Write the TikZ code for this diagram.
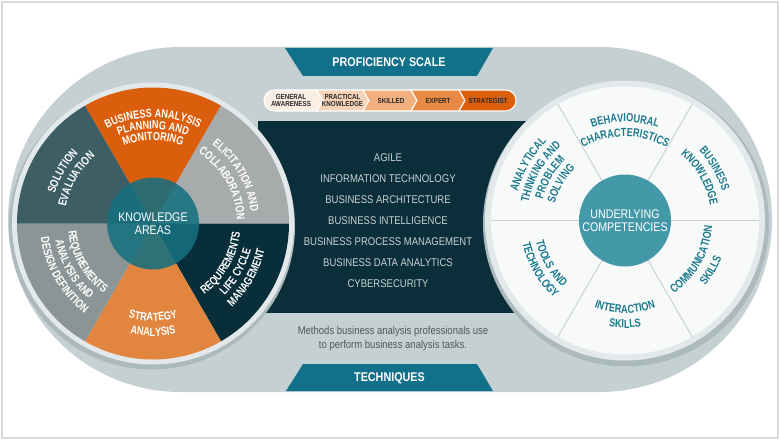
\documentclass[tikz,border=0pt]{standalone}
\usepackage{fontspec}
\setmainfont{Liberation Sans}[FakeStretch=0.85]
\newfontfamily\wheelfam{Liberation Sans}[FakeStretch=0.78]
\usetikzlibrary{positioning,decorations.text}

\definecolor{frame}{HTML}{D9D9D9}
\definecolor{band}{HTML}{C5D0D3}
\definecolor{bandshade}{HTML}{ADBABD}
\definecolor{rim}{HTML}{E3E9EA}
\definecolor{tealhead}{HTML}{11718A}
\definecolor{panel}{HTML}{0B2F3A}
\definecolor{orangedark}{HTML}{DB5E0C}
\definecolor{orangelight}{HTML}{E2853F}
\definecolor{greylight}{HTML}{A8ABAB}
\definecolor{greymid}{HTML}{8B9595}
\definecolor{slate}{HTML}{3E5E66}
\definecolor{navy}{HTML}{082E3A}
\definecolor{hubleft}{HTML}{16707F}
\definecolor{hubright}{HTML}{2B8C9D}
\definecolor{comptext}{HTML}{1B7A8D}
\definecolor{spoke}{HTML}{CDD3D4}
\definecolor{wheelwhite}{HTML}{F8FAFA}
\definecolor{lvla}{HTML}{FBEEE4}
\definecolor{lvlb}{HTML}{F6D3B6}
\definecolor{lvlc}{HTML}{F0B07F}
\definecolor{lvld}{HTML}{E88A45}
\definecolor{lvle}{HTML}{DD5F0C}
\definecolor{lvltext}{HTML}{2E2A28}
\definecolor{listtext}{HTML}{C9D1D3}
\definecolor{desctext}{HTML}{555555}

\newcommand{\lwf}{\color{white}\wheelfam\bfseries\fontsize{8.8}{9}\selectfont}
\newcommand{\rwf}{\color{comptext}\wheelfam\bfseries\fontsize{8.8}{9}\selectfont}

% text on an arc, letter tops pointing away from the centre
\newcommand{\outtext}[5]{%
  \path[decorate, decoration={text along path, text align=center, text={|#4|#5}}]
    (#1) ++(#2+70:#3) arc[start angle=#2+70, end angle=#2-70, radius=#3];}
% text on an arc, letter tops pointing to the centre
\newcommand{\intext}[5]{%
  \path[decorate, decoration={text along path, text align=center, text={|#4|#5}}]
    (#1) ++(#2-70:#3) arc[start angle=#2-70, end angle=#2+70, radius=#3];}

\begin{document}
\begin{tikzpicture}[x=0.75pt, y=0.75pt, node distance=9.4pt,
    head/.style={text=white, font=\bfseries\fontsize{9.5}{11}\selectfont, inner sep=0pt},
    tech/.style={text=listtext, font=\fontsize{8.4}{10}\selectfont, inner sep=0pt,
                 text height=6pt, text depth=0pt},
    lvl/.style={text=lvltext, font=\bfseries\fontsize{5.5}{5.8}\selectfont, align=center, inner sep=0pt},
    lvlbox/.style={draw=white, line width=0.8pt},
    hub/.style={circle, minimum size=69pt, inner sep=0pt, text=white, align=center,
                fill opacity=0.88, text opacity=1, font=\fontsize{9.4}{9.6}\selectfont}]
        \useasboundingbox (0,0) rectangle (780,440);

        % Frame and band
        \draw[frame, line width=1.2pt] (2,2) rectangle (778,438);
        \fill[band] (180.5,48) -- (599.5,48) arc[start angle=-90, end angle=90, radius=172.5]
              -- (180.5,393) arc[start angle=90, end angle=270, radius=172.5] -- cycle;

        % Techniques panel
        \fill[panel] (258,127) rectangle (530,319);

        % Headers
        \fill[tealhead] (285,392) -- (493,392) -- (477,364) -- (303,364) -- cycle;
        \node[head] (ps) at (389,378) {PROFICIENCY SCALE};
        \fill[tealhead] (303,76) -- (477,76) -- (493,49) -- (286,49) -- cycle;
        \node[head] (tq) at (389.5,62) {TECHNIQUES};

        % Proficiency levels
        \fill[lvla, lvlbox] (274.5,350) -- (317,350) -- (323,339.5) -- (317,329) -- (274.5,329)
              arc[start angle=270, end angle=90, radius=10.5] -- cycle;
        \fill[lvlb, lvlbox] (317,350) -- (363,350) -- (369,339.5) -- (363,329) -- (317,329) -- (323,339.5) -- cycle;
        \fill[lvlc, lvlbox] (363,350) -- (411,350) -- (417,339.5) -- (411,329) -- (363,329) -- (369,339.5) -- cycle;
        \fill[lvld, lvlbox] (411,350) -- (459,350) -- (465,339.5) -- (459,329) -- (411,329) -- (417,339.5) -- cycle;
        \fill[lvle, lvlbox] (459,350) -- (505.5,350) arc[start angle=90, end angle=-90, radius=10.5]
              -- (459,329) -- (465,339.5) -- cycle;
        \node[lvl] (p_1) at (291,339.5) {GENERAL\\AWARENESS};
        \node[lvl] (p_2) at (342.5,339.5) {PRACTICAL\\KNOWLEDGE};
        \node[lvl] (p_3) at (391,339.5) {SKILLED};
        \node[lvl] (p_4) at (438,339.5) {EXPERT};
        \node[lvl] (p_5) at (488,339.5) {STRATEGIST};

        % Techniques list
        \node[tech] (t_1) at (388,283)   {AGILE};
        \node[tech] (t_2) [below=of t_1] {INFORMATION TECHNOLOGY};
        \node[tech] (t_3) [below=of t_2] {BUSINESS ARCHITECTURE};
        \node[tech] (t_4) [below=of t_3] {BUSINESS INTELLIGENCE};
        \node[tech] (t_5) [below=of t_4] {BUSINESS PROCESS MANAGEMENT};
        \node[tech] (t_6) [below=of t_5] {BUSINESS DATA ANALYTICS};
        \node[tech] (t_7) [below=of t_6] {CYBERSECURITY};
        \node[text=desctext, align=center, inner sep=0pt, font=\fontsize{8.4}{10.5}\selectfont]
              (dsc) at (393,101) {Methods business analysis professionals use\\to perform business analysis tasks.};

        % Knowledge areas wheel
        \coordinate (c_1) at (153,216.5);
        \fill[bandshade] ([shift={(-1,-3)}]c_1) circle[radius=143];
        \fill[rim] (c_1) circle[radius=141];
        \fill[orangedark]  (c_1) -- ++(60:136)  arc[start angle=60,  end angle=120, radius=136] -- cycle;
        \fill[greylight]   (c_1) -- ++(0:136)   arc[start angle=0,   end angle=60,  radius=136] -- cycle;
        \fill[navy]        (c_1) -- ++(-60:136) arc[start angle=-60, end angle=0,   radius=136] -- cycle;
        \fill[orangelight] (c_1) -- ++(240:136) arc[start angle=240, end angle=300, radius=136] -- cycle;
        \fill[greymid]     (c_1) -- ++(180:136) arc[start angle=180, end angle=240, radius=136] -- cycle;
        \fill[slate]       (c_1) -- ++(120:136) arc[start angle=120, end angle=180, radius=136] -- cycle;
        \node[hub, fill=hubleft] (ka) at (c_1) {KNOWLEDGE\\AREAS};

        \outtext{c_1}{90}{106}{\lwf}{BUSINESS ANALYSIS}
        \outtext{c_1}{90}{94.5}{\lwf}{PLANNING AND}
        \outtext{c_1}{90}{83}{\lwf}{MONITORING}
        \outtext{c_1}{30}{98.5}{\lwf}{ELICITATION AND}
        \outtext{c_1}{30}{84}{\lwf}{COLLABORATION}
        \intext{c_1}{-30}{87.5}{\lwf}{REQUIREMENTS}
        \intext{c_1}{-30}{101.5}{\lwf}{LIFE CYCLE}
        \intext{c_1}{-30}{115}{\lwf}{MANAGEMENT}
        \intext{c_1}{-90}{97.5}{\lwf}{STRATEGY}
        \intext{c_1}{-90}{112.5}{\lwf}{ANALYSIS}
        \intext{c_1}{210}{85}{\lwf}{REQUIREMENTS}
        \intext{c_1}{210}{99}{\lwf}{ANALYSIS AND}
        \intext{c_1}{210}{113}{\lwf}{DESIGN DEFINITION}
        \outtext{c_1}{150}{102.5}{\lwf}{SOLUTION}
        \outtext{c_1}{150}{88.5}{\lwf}{EVALUATION}

        % Underlying competencies wheel
        \coordinate (c_2) at (625,219.5);
        \fill[bandshade] ([shift={(1,-3)}]c_2) circle[radius=143];
        \fill[rim] (c_2) circle[radius=140];
        \fill[wheelwhite] (c_2) circle[radius=134];
        \draw[spoke, line width=0.8pt] ([shift={(0:134)}]c_2)   -- ([shift={(180:134)}]c_2);
        \draw[spoke, line width=0.8pt] ([shift={(60:134)}]c_2)  -- ([shift={(240:134)}]c_2);
        \draw[spoke, line width=0.8pt] ([shift={(120:134)}]c_2) -- ([shift={(300:134)}]c_2);
        \node[hub, fill=hubright] (uc) at (c_2) {UNDERLYING\\COMPETENCIES};

        \outtext{c_2}{90}{98.5}{\rwf}{BEHAVIOURAL}
        \outtext{c_2}{90}{84}{\rwf}{CHARACTERISTICS}
        \outtext{c_2}{30}{101.5}{\rwf}{BUSINESS}
        \outtext{c_2}{30}{86.5}{\rwf}{KNOWLEDGE}
        \intext{c_2}{-30}{87.5}{\rwf}{COMMUNICATION}
        \intext{c_2}{-30}{103.5}{\rwf}{SKILLS}
        \intext{c_2}{-90}{92.5}{\rwf}{INTERACTION}
        \intext{c_2}{-90}{107.5}{\rwf}{SKILLS}
        \intext{c_2}{210}{91.5}{\rwf}{TOOLS AND}
        \intext{c_2}{210}{105}{\rwf}{TECHNOLOGY}
        \outtext{c_2}{150}{111}{\rwf}{ANALYTICAL}
        \outtext{c_2}{150}{98}{\rwf}{THINKING AND}
        \outtext{c_2}{150}{85}{\rwf}{PROBLEM}
        \outtext{c_2}{150}{72}{\rwf}{SOLVING}
\end{tikzpicture}
\end{document}
